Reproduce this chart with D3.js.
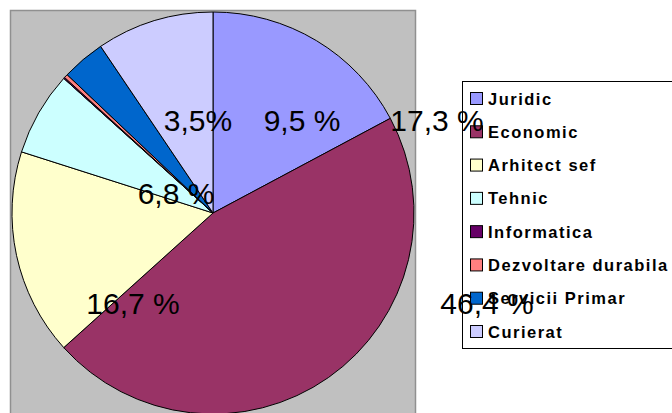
<!DOCTYPE html>
<html>
<head>
<meta charset="utf-8">
<script src="https://cdn.jsdelivr.net/npm/d3@7"></script>
<style>
	body { margin: 0; background: white; }
	text { font-family: "Liberation Sans", Arial, sans-serif; }
</style>
</head>
<body>
<script>
// categories and shares (%)
var categories = [
	'Juridic',
	'Economic',
	'Arhitect sef',
	'Tehnic',
	'Informatica',
	'Dezvoltare durabila',
	'Servicii Primar',
	'Curierat'
]
var values = [17.3, 46.4, 16.7, 6.8, 0.1, 0.3, 3.5, 9.5]
var colors = ['#9999FF', '#993366', '#FFFFCC', '#CCFFFF', '#660066', '#FF8080', '#0066CC', '#CCCCFF']

// the data labels as they appear (Excel left them shifted off their slices)
var labelTexts = ['3,5%', '9,5 %', '17,3 %', '6,8 %', '16,7 %', '46,4 %']

var width = 672,
	height = 413

var svg = d3.select('body').append('svg')
	.attr('width', width)
	.attr('height', height)

// plot area
svg.append('rect')
	.attr('x', 10.5)
	.attr('y', 10.5)
	.attr('width', 405)
	.attr('height', 420)
	.attr('fill', '#C0C0C0')
	.attr('stroke', '#909090')
	.attr('stroke-width', 1.5)

var cx = 213, cy = 213, r = 201

var pie = d3.pie().sort(null).value(d => d.value)
var arc = d3.arc().innerRadius(0).outerRadius(r)

var table = categories.map((c, i) => ({name: c, value: values[i], color: colors[i]}))
var arcs = pie(table)

var g = svg.append('g')
	.attr('transform', 'translate(' + cx + ',' + cy + ')')

g.selectAll('path')
	.data(arcs)
	.enter()
	.append('path')
		.attr('d', arc)
		.attr('fill', d => d.data.color)
		.attr('stroke', 'black')
		.attr('stroke-width', 1)
		.attr('stroke-linejoin', 'round')

// legend
var legend = svg.append('g')
	.attr('transform', 'translate(462.5, 81.5)')

legend.append('rect')
	.attr('width', 230)
	.attr('height', 267)
	.attr('fill', 'white')
	.attr('stroke', 'black')
	.attr('stroke-width', 1)

var ly = d3.scalePoint()
	.domain(categories)
	.range([17, 250])

var item = legend.selectAll('.item')
	.data(table)
	.enter()
	.append('g')
		.attr('class', 'item')
		.attr('transform', d => 'translate(0,' + ly(d.name) + ')')

item.append('rect')
	.attr('x', 8)
	.attr('y', -6)
	.attr('width', 12)
	.attr('height', 12)
	.attr('fill', d => d.color)
	.attr('stroke', 'black')
	.attr('stroke-width', 1)

item.append('text')
	.attr('x', 25.5)
	.attr('y', 6)
	.attr('font-size', '16.5px')
	.attr('font-weight', 'bold')
	.attr('letter-spacing', '1.5px')
	.text(d => d.name)

// data labels: anchored where they sit in the original, relative to the pie,
// drawn last so they sit on top of the legend like in the original
var labelSpots = {
	'3,5%':   [-15, -0.41],
	'9,5 %':  [89, -0.41],
	'17,3 %': [224, -0.41],
	'6,8 %':  [-37, -0.045],
	'16,7 %': [-80, 0.5],
	'46,4 %': [274, 0.5]
}

var labels = svg.append('g')
	.attr('transform', 'translate(' + cx + ',' + cy + ')')

labels.selectAll('.lbl')
	.data(labelTexts)
	.enter()
	.append('text')
		.attr('class', 'lbl')
		.attr('x', d => labelSpots[d][0])
		.attr('y', d => labelSpots[d][1] * r)
		.attr('text-anchor', 'middle')
		.attr('font-size', '30px')
		.attr('fill', 'black')
		.text(d => d)
</script>
</body>
</html>
